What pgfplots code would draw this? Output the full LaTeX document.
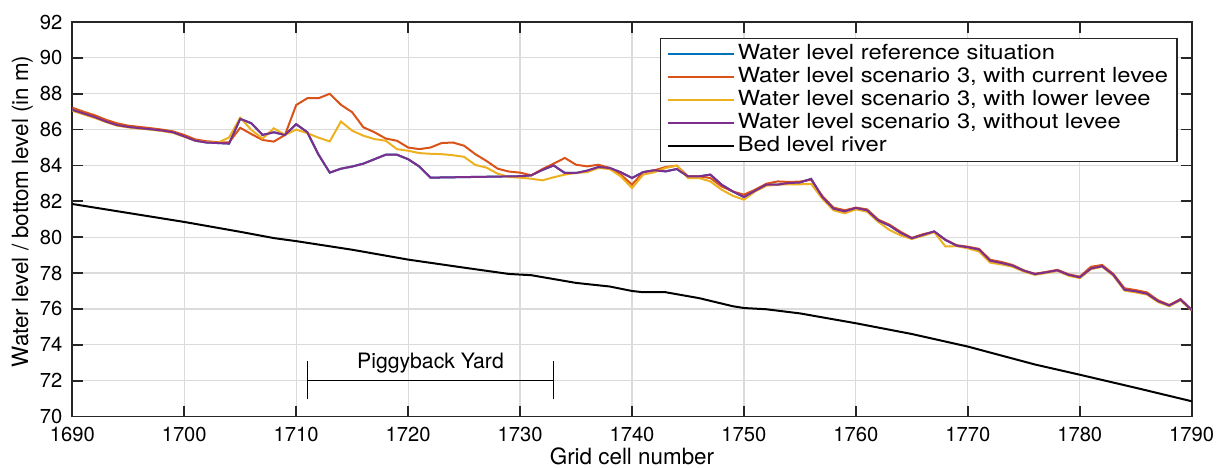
\documentclass[border=0pt]{standalone}
\usepackage{fontspec}
\setmainfont{TeX Gyre Heros}
\newfontfamily\legendfont{TeX Gyre Heros}[FakeStretch=1.14]
\usepackage{pgfplots}
\pgfplotsset{compat=1.18}
\usepackage{pgfplotstable}
\usetikzlibrary{calc}

\definecolor{mblue}{rgb}{0,0.447,0.741}
\definecolor{morange}{rgb}{0.85,0.325,0.098}
\definecolor{myellow}{rgb}{0.929,0.694,0.125}
\definecolor{mpurple}{rgb}{0.494,0.184,0.556}
\definecolor{axgray}{rgb}{0.15,0.15,0.15}

% water levels per grid cell: reference, current levee, lower levee, no levee
\pgfplotstableread{
cell ref cur low none
1690 87.10 87.22 87.05 87.10
1691 86.90 87.00 86.85 86.90
1692 86.70 86.80 86.65 86.70
1693 86.45 86.55 86.42 86.45
1694 86.25 86.35 86.22 86.25
1695 86.15 86.22 86.12 86.15
1696 86.08 86.15 86.05 86.08
1697 86.02 86.08 86.00 86.02
1698 85.95 86.00 85.92 85.95
1699 85.85 85.90 85.82 85.85
1700 85.62 85.70 85.60 85.62
1701 85.38 85.45 85.38 85.38
1702 85.28 85.35 85.30 85.28
1703 85.25 85.30 85.27 85.25
1704 85.22 85.28 85.56 85.22
1705 86.60 86.10 86.66 86.60
1706 86.35 85.75 85.98 86.35
1707 85.70 85.42 85.50 85.70
1708 85.85 85.33 86.07 85.85
1709 85.70 85.70 85.70 85.70
1710 86.30 87.37 86.00 86.30
1711 85.85 87.75 85.80 85.85
1712 84.60 87.75 85.55 84.60
1713 83.60 88.00 85.34 83.60
1714 83.82 87.38 86.45 83.82
1715 83.94 86.97 85.94 83.94
1716 84.10 86.13 85.66 84.10
1717 84.35 85.85 85.47 84.35
1718 84.60 85.50 85.38 84.60
1719 84.60 85.38 84.91 84.60
1720 84.35 85.00 84.82 84.35
1721 83.94 84.91 84.69 83.94
1722 83.32 85.00 84.65 83.32
1723 83.33 85.25 84.63 83.33
1724 83.34 85.28 84.57 83.34
1725 83.35 85.10 84.48 83.35
1726 83.36 84.63 84.03 83.36
1727 83.37 84.25 83.88 83.37
1728 83.38 83.82 83.54 83.38
1729 83.39 83.66 83.36 83.39
1730 83.40 83.60 83.32 83.40
1731 83.45 83.45 83.26 83.45
1732 83.75 83.80 83.17 83.75
1733 84.00 84.10 83.34 84.00
1734 83.58 84.42 83.49 83.58
1735 83.58 84.04 83.58 83.58
1736 83.71 83.95 83.63 83.71
1737 83.91 84.04 83.86 83.91
1738 83.86 83.86 83.80 83.86
1739 83.62 83.49 83.39 83.62
1740 83.30 82.93 82.74 83.30
1741 83.63 83.62 83.49 83.63
1742 83.73 83.73 83.62 83.73
1743 83.67 83.91 83.86 83.67
1744 83.80 83.99 83.99 83.80
1745 83.39 83.39 83.30 83.39
1746 83.39 83.39 83.30 83.39
1747 83.49 83.30 83.11 83.49
1748 82.93 82.83 82.65 82.93
1749 82.55 82.55 82.31 82.55
1750 82.24 82.37 82.09 82.24
1751 82.59 82.65 82.55 82.59
1752 82.93 82.98 82.87 82.93
1753 82.93 83.11 82.93 82.93
1754 83.02 83.08 82.95 83.02
1755 83.05 83.10 82.95 83.05
1756 83.25 83.20 82.97 83.25
1757 82.24 82.30 82.15 82.24
1758 81.59 81.65 81.50 81.59
1759 81.44 81.50 81.33 81.44
1760 81.63 81.65 81.55 81.63
1761 81.50 81.55 81.42 81.50
1762 80.93 80.98 80.85 80.93
1763 80.65 80.70 80.40 80.65
1764 80.24 80.30 80.10 80.24
1765 79.94 79.96 79.90 79.94
1766 80.13 80.17 80.08 80.13
1767 80.32 80.30 80.28 80.32
1768 79.85 79.85 79.48 79.85
1769 79.53 79.55 79.50 79.53
1770 79.44 79.47 79.38 79.44
1771 79.31 79.35 79.20 79.31
1772 78.69 78.74 78.58 78.69
1773 78.56 78.62 78.48 78.56
1774 78.41 78.45 78.35 78.41
1775 78.13 78.15 78.08 78.13
1776 77.94 77.96 77.90 77.94
1777 78.04 78.06 78.00 78.04
1778 78.15 78.18 78.12 78.15
1779 77.90 77.93 77.85 77.90
1780 77.76 77.80 77.72 77.76
1781 78.25 78.35 78.22 78.25
1782 78.38 78.45 78.35 78.38
1783 77.90 77.95 77.85 77.90
1784 77.07 77.15 77.02 77.07
1785 76.98 77.05 76.92 76.98
1786 76.85 76.92 76.80 76.85
1787 76.43 76.48 76.38 76.43
1788 76.19 76.22 76.15 76.19
1789 76.52 76.55 76.48 76.52
1790 75.93 75.95 75.90 75.93
}\waterdata

% river bed level
\pgfplotstableread{
cell bed
1690 81.85
1695 81.35
1700 80.85
1705 80.30
1708 79.95
1710 79.78
1715 79.30
1720 78.75
1725 78.30
1729 77.95
1731 77.88
1735 77.45
1738 77.25
1740 77.00
1741 76.93
1743 76.93
1746 76.60
1749 76.15
1750 76.05
1752 75.98
1755 75.75
1760 75.20
1765 74.60
1770 73.90
1776 72.90
1780 72.33
1785 71.60
1790 70.85
}\beddata

\begin{document}
\begin{tikzpicture}[font=\fontsize{10.1}{12}\selectfont]
\begin{axis}[
  scale only axis,
  width=559.7pt, height=197.25pt,
  xmin=1690, xmax=1790, ymin=70, ymax=92,
  xtick={1690,1700,...,1790},
  ytick={70,72,...,92},
  xticklabel style={/pgf/number format/1000 sep={}, yshift=-2pt},
  yticklabel style={xshift=-1.5pt},
  /pgf/number format/assume math mode=true,
  tick align=inside, tick pos=both,
  major tick length=5.5pt,
  axis line style={axgray, line width=0.9pt},
  every tick/.style={axgray, line width=0.9pt},
  grid=major,
  major grid style={black!14, line width=0.6pt},
  xlabel={Grid cell number},
  ylabel={Water level / bottom level (in m)},
  label style={font=\fontsize{11.2}{13}\selectfont},
  xlabel style={at={(axis description cs:0.5,-0.1215)}, anchor=base},
  ylabel style={at={(axis description cs:-0.0446,0.52)}, anchor=center, rotate=0},
  legend cell align=left,
  legend image code/.code={\draw[#1, line width=1pt] (0pt,0pt) -- (33pt,0pt);},
  legend style={at={(axis description cs:0.9875,0.9595)}, anchor=north east,
    draw=axgray, line width=0.7pt, fill=white,
    font=\legendfont\fontsize{10.4}{12}\selectfont,
    inner xsep=3pt, inner ysep=2pt,
    nodes={inner xsep=1.5pt, inner ysep=0.4pt, text height=7.8pt, text depth=2.9pt},
    /tikz/every even column/.append style={column sep=2pt}},
]
\addplot[mblue, line width=1pt] table[x=cell, y=ref] {\waterdata};
\addlegendentry{Water level reference situation}
\addplot[morange, line width=1pt] table[x=cell, y=cur] {\waterdata};
\addlegendentry{Water level scenario 3, with current levee}
\addplot[myellow, line width=1pt] table[x=cell, y=low] {\waterdata};
\addlegendentry{Water level scenario 3, with lower levee}
\addplot[mpurple, line width=1pt] table[x=cell, y=none] {\waterdata};
\addlegendentry{Water level scenario 3, without levee}
\addplot[black, line width=1pt] table[x=cell, y=bed] {\beddata};
\addlegendentry{Bed level river}

% extent of the Piggyback Yard
\draw[black, line width=0.8pt] (axis cs:1711,72) -- (axis cs:1733,72);
\draw[black, line width=0.8pt] (axis cs:1711,70.95) -- (axis cs:1711,73.1);
\draw[black, line width=0.8pt] (axis cs:1733,70.95) -- (axis cs:1733,73.1);
\node[anchor=base, font=\fontsize{10.6}{12}\selectfont] at (axis cs:1722,72.7) {Piggyback Yard};
\end{axis}
\pgfresetboundingbox
\path[use as bounding box]
  ($(current axis.south west)+(-36.15pt,-25.25pt)$) rectangle
  ($(current axis.north east)+(15.15pt,11pt)$);
\end{tikzpicture}
\end{document}
